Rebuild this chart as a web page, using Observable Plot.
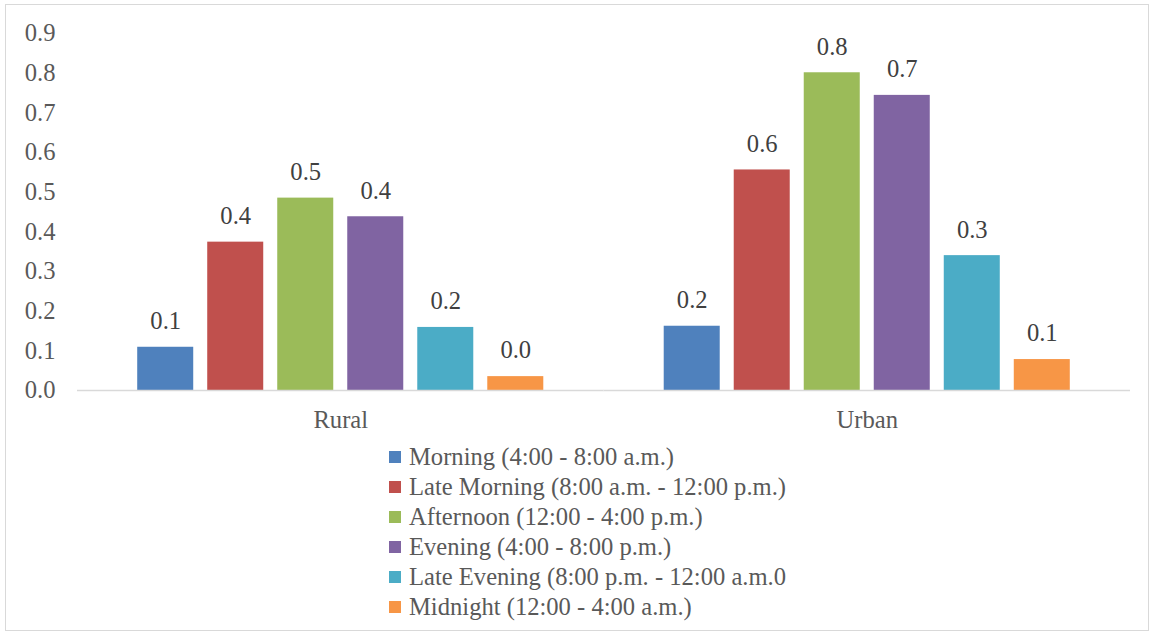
<!DOCTYPE html>
<html>
<head>
<meta charset="utf-8">
<script src="https://cdn.jsdelivr.net/npm/d3@7"></script>
<script src="https://cdn.jsdelivr.net/npm/@observablehq/plot@0.6"></script>
<style>
  html, body { margin: 0; padding: 0; background: #fff; }
  body { width: 1153px; height: 635px; position: relative; overflow: hidden; font-family: "Liberation Serif", "DejaVu Serif", serif; }
  #frame { position: absolute; left: 5px; top: 4px; width: 1144px; height: 627px; border: 1px solid #d9d9d9; box-sizing: border-box; }
  #chart { position: absolute; left: 0; top: 0; }
  #legend { position: absolute; left: 389px; top: 442px; color: #595959; font-size: 24.6px; }
  .item { height: 30px; display: flex; align-items: center; white-space: nowrap; }
  .sw { width: 12px; height: 12px; margin-right: 8px; flex: none; }
</style>
</head>
<body>
<div id="frame"></div>
<div id="chart"></div>
<div id="legend"></div>
<script>
// Areas and time-of-day periods
const areas = ["Rural", "Urban"];
const periods = [
  "Morning (4:00 - 8:00 a.m.)",
  "Late Morning (8:00 a.m. - 12:00 p.m.)",
  "Afternoon (12:00 - 4:00 p.m.)",
  "Evening (4:00 - 8:00 p.m.)",
  "Late Evening (8:00 p.m. - 12:00 a.m.0",
  "Midnight (12:00 - 4:00 a.m.)"
];
const colors = ["#4F81BD", "#C0504D", "#9BBB59", "#8064A2", "#4BACC6", "#F79646"];

// Values per period, one array per area
const rural = [0.109, 0.374, 0.485, 0.438, 0.159, 0.035];
const urban = [0.162, 0.556, 0.801, 0.744, 0.340, 0.078];
const yTicks = [0, 0.1, 0.2, 0.3, 0.4, 0.5, 0.6, 0.7, 0.8, 0.9];

const rows = [
  ...periods.map((p, i) => ({area: "Rural", period: p, value: rural[i]})),
  ...periods.map((p, i) => ({area: "Urban", period: p, value: urban[i]}))
];

const chart = Plot.plot({
  width: 1153,
  height: 440,
  marginLeft: 77,
  marginRight: 23,
  marginTop: 33,
  marginBottom: 50,
  style: {fontFamily: "'Liberation Serif', 'DejaVu Serif', serif", fontSize: "24.6px", color: "#595959", background: "transparent"},
  fx: {domain: areas, padding: 0, round: false, axis: "bottom", label: null, tickSize: 0, tickPadding: 20},
  x: {domain: periods, paddingInner: 0.2, paddingOuter: 0.86, round: false, axis: null},
  y: {domain: [0, 0.9], ticks: yTicks, tickFormat: d3.format(".1f"), tickSize: 0, tickPadding: 22, label: null},
  color: {domain: periods, range: colors},
  marks: [
    Plot.barY(rows, {fx: "area", x: "period", y: "value", fill: "period"}),
    Plot.text(rows, {fx: "area", x: "period", y: "value", text: d => d.value.toFixed(1), dy: -26, lineAnchor: "middle", fill: "#404040"}),
    Plot.ruleY([0], {stroke: "#d9d9d9", strokeWidth: 1.5})
  ]
});
document.getElementById("chart").appendChild(chart);

// Legend: one row per period
const legend = document.getElementById("legend");
periods.forEach((p, i) => {
  const row = document.createElement("div");
  row.className = "item";
  const sw = document.createElement("span");
  sw.className = "sw";
  sw.style.background = colors[i];
  const label = document.createElement("span");
  label.textContent = p;
  row.append(sw, label);
  legend.appendChild(row);
});
</script>
</body>
</html>
